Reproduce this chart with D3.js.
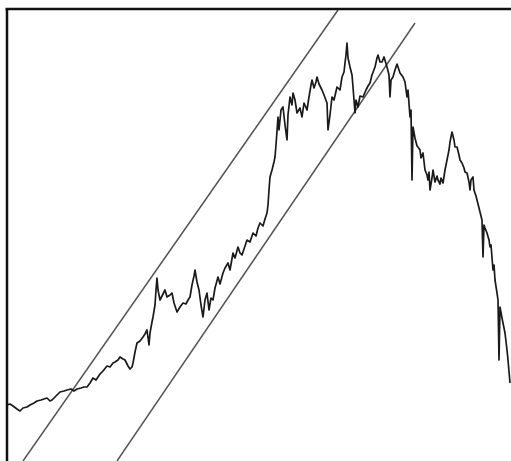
<!DOCTYPE html>
<html>
<head>
<meta charset="utf-8">
<script src="https://cdn.jsdelivr.net/npm/d3@7"></script>
<style>
  html, body { margin: 0; padding: 0; background: #fff; }
  svg { display: block; }
</style>
</head>
<body>
<svg id="chart" width="511" height="461"></svg>
<script>
// Week index (time axis)
const weeks = [7,10,13,17,20,23,27,30,34,37,41,44,47,50,52,56,60,64,67,71,74,77,81,84,87,90,93,96,100,103,107,110,113,115,118,120,123,125,128,130,132,133,135,137,140,143,145,147,149,150,152,153,155,156,157,158,160,162,165,167,170,172,174,177,180,183,186,188,190,192,194,195,197,199,201,203,205,207,209,211,213,215,218,220,223,225,228,230,233,235,238,240,242,245,247,250,253,256,258,260,263,265,267,268,269,270,272,274,275,276,278,279,281,283,285,287,288,290,292,293,295,297,300,302,304,307,309,311,312,314,316,317,319,322,324,327,328,330,332,334,337,340,342,344,345,346,347,348,350,352,353,355,356,358,360,363,366,368,370,372,375,377,378,380,382,384,387,389,390,391,393,395,397,398,400,403,405,407,408,410,411,412,413,415,417,418,420,421,423,425,427,428,429,430,432,433,435,437,438,440,441,443,445,447,449,450,452,454,455,457,459,460,462,464,465,467,469,470,471,473,474,476,477,479,480,482,483,484,485,487,489,490,491,493,494,495,497,498,499,500,502,503,505,507,508,510].map(v => v - 7);

// Price series
const prices = [11.2,11.4,11.0,10.4,10.0,10.6,10.8,11.2,11.6,12.0,
12.2,12.4,12.6,12.0,12.2,13.0,13.8,14.0,14.2,14.4,
14.0,14.4,14.6,14.8,14.8,15.6,16.6,16.2,17.4,18.0,
19.0,18.8,19.6,19.8,20.2,20.8,20.4,20.2,19.0,18.4,
18.8,19.6,21.8,23.6,24.0,24.8,25.4,26.2,23.2,25.6,
27.8,28.8,31.2,34.2,36.6,34.2,32.2,33.0,34.2,32.8,
33.2,33.6,31.6,29.8,30.8,31.6,31.4,32.2,32.8,35.2,
37.0,38.2,35.8,34.2,31.2,28.8,32.2,33.6,30.2,32.6,
32.2,34.6,36.8,35.4,37.6,38.6,39.6,38.2,41.6,40.6,
42.8,41.6,41.2,43.0,44.2,43.8,45.6,45.0,46.6,47.6,
47.0,48.4,49.6,51.2,54.2,56.8,58.2,59.8,60.8,63.2,
68.8,66.2,70.2,70.8,67.2,64.2,69.2,72.8,71.2,73.6,
72.2,69.6,70.6,68.8,71.6,70.2,72.8,75.2,76.2,74.6,
75.8,76.8,75.4,74.2,73.2,71.6,66.2,69.2,72.8,72.2,
74.8,74.2,76.8,77.8,79.6,81.2,83.6,80.6,78.8,77.2,
74.8,69.6,72.2,70.8,73.0,72.8,74.2,75.0,75.6,77.2,
78.8,80.6,81.2,79.8,79.8,80.8,78.8,77.2,72.8,76.2,
76.8,78.2,79.4,78.8,77.6,76.8,75.8,72.8,74.2,68.8,
70.2,56.2,66.8,64.6,63.0,62.8,62.2,60.6,61.6,58.2,
57.2,56.2,57.8,54.2,56.6,58.2,55.8,57.0,56.2,55.4,
56.6,55.6,58.2,60.2,62.2,63.8,65.8,64.2,62.8,62.8,
61.2,60.2,59.6,58.6,57.8,57.6,55.8,54.2,56.2,56.8,
54.2,53.0,52.2,50.6,49.8,48.2,40.8,47.2,46.6,45.6,
44.2,42.8,43.2,38.2,39.2,36.2,33.6,32.2,20.2,30.8,
28.6,27.6,25.6,22.2,20.2,15.6];

// Channel lines: [week, price] endpoints
const upperChannel = [[16, 0], [331, 90.2]];
const lowerChannel = [[110, 0], [408, 87.6]];

const svg = d3.select("#chart");
const W = 511, H = 461;
const padLeft = 7, padTop = 9;

const x = d3.scaleLinear().domain([0, 504]).range([padLeft, W]);
const y = d3.scaleLinear().domain([0, 90.4]).range([H, padTop]);

svg.append("rect").attr("width", W).attr("height", H).attr("fill", "#fff");

svg.append("clipPath").attr("id", "plotclip")
  .append("rect").attr("x", padLeft).attr("y", padTop).attr("width", W - padLeft).attr("height", H - padTop);

const g = svg.append("g").attr("clip-path", "url(#plotclip)");

const lineGen = d3.line().x(d => x(d[0])).y(d => y(d[1]));

[upperChannel, lowerChannel].forEach(seg => {
  g.append("path")
    .attr("d", lineGen(seg))
    .attr("fill", "none")
    .attr("stroke", "#555")
    .attr("stroke-width", 1.5);
});

const series = d3.zip(weeks, prices);
g.append("path")
  .attr("d", lineGen(series))
  .attr("fill", "none")
  .attr("stroke", "#1a1a1a")
  .attr("stroke-width", 1.7)
  .attr("stroke-linejoin", "round");

// Frame (top and left edges visible)
svg.append("line").attr("x1", padLeft - 1.5).attr("x2", W).attr("y1", padTop).attr("y2", padTop)
  .attr("stroke", "#111").attr("stroke-width", 2.5);
svg.append("line").attr("x1", padLeft).attr("x2", padLeft).attr("y1", padTop).attr("y2", H)
  .attr("stroke", "#111").attr("stroke-width", 2.5);
</script>
</body>
</html>
